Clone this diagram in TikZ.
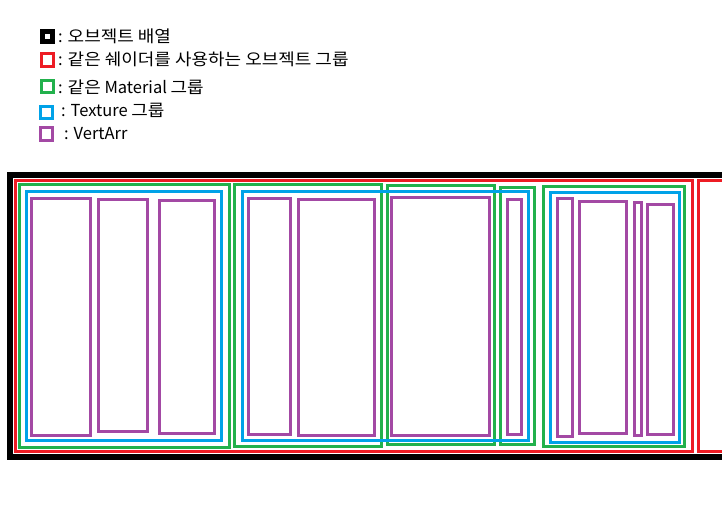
\documentclass[tikz,border=0pt]{standalone}
\usepackage{fontspec}
\setmainfont{Noto Sans CJK KR}
\newfontfamily\hk[FakeStretch=1.09]{Noto Sans CJK KR}
\definecolor{cred}{HTML}{ED1C24}
\definecolor{cgreen}{HTML}{22B14C}
\definecolor{cblue}{HTML}{00A2E8}
\definecolor{cpurple}{HTML}{A349A4}
\tikzset{
  arr/.style={draw=black,line width=6pt},
  shd/.style={draw=cred,line width=3pt},
  mat/.style={draw=cgreen,line width=3pt},
  tex/.style={draw=cblue,line width=3pt},
  va/.style={draw=cpurple,line width=3pt},
  lbl/.style={anchor=base west,inner sep=0pt,font=\fontsize{16.5}{19}\selectfont},
}
\begin{document}
\begin{tikzpicture}[x=1pt,y=-1pt]
\path[use as bounding box] (0,0) rectangle (722,511);
\begin{scope}
\clip (0,0) rectangle (722,511);
% legend
\draw[draw=black,line width=5pt] (42.5,31.5) rectangle (52.5,41.5);
\draw[shd] (41.5,53.5) rectangle (53.5,66.5);
\draw[mat] (41.5,80.5) rectangle (53.5,92.5);
\draw[tex] (40.5,106.5) rectangle (52.5,118.5);
\draw[va] (40.5,127.5) rectangle (52.5,140.5);
\node[lbl] (l1) at (58,42) {: {\hk 오브젝트 배열}};
\node[lbl] (l2) at (58,65.5) {: {\hk 같은 쉐이더를 사용하는 오브젝트 그룹}};
\node[lbl] (l3) at (58,93) {: {\hk 같은} Material {\hk 그룹}};
\node[lbl] (l4) at (61,116) {: Texture {\hk 그룹}};
\node[lbl] (l5) at (64,139) {: VertArr};
% object array
\draw[arr] (10,175) rectangle (740,457);
% shader groups
\draw[shd] (15,180.5) rectangle (692.5,451.5);
\draw[shd] (698.5,180.5) rectangle (740,451.5);
% material groups
\draw[mat] (19.5,184.5) rectangle (229,447.5);
\draw[mat] (234.5,184.5) rectangle (381.5,446.5);
\draw[mat] (387,185.5) rectangle (494.5,444.5);
\draw[mat] (500.5,187.5) rectangle (534.5,444.5);
\draw[mat] (543.5,186.5) rectangle (684.5,446.5);
% texture groups
\draw[tex] (26.5,191.5) rectangle (221.5,440.5);
\draw[tex] (242.5,191.5) rectangle (528.5,440.5);
\draw[tex] (550.5,192.5) rectangle (679.5,442.5);
% vertex arrays
\draw[va] (31.5,198.5) rectangle (90.5,435.5);
\draw[va] (98.5,199.5) rectangle (147.5,431.5);
\draw[va] (159.5,200.5) rectangle (214.5,433.5);
\draw[va] (248.5,198.5) rectangle (290.5,434.5);
\draw[va] (298.5,199.5) rectangle (374.5,435.5);
\draw[va] (391.5,197.5) rectangle (489.5,435.5);
\draw[va] (507.5,199.5) rectangle (521.5,434.5);
\draw[va] (557.5,198.5) rectangle (572.5,436.5);
\draw[va] (579.5,201.5) rectangle (626.5,433.5);
\draw[va] (634.5,202.5) rectangle (641.5,435.5);
\draw[va] (647.5,204.5) rectangle (673.5,434.5);
\end{scope}
\end{tikzpicture}
\end{document}
